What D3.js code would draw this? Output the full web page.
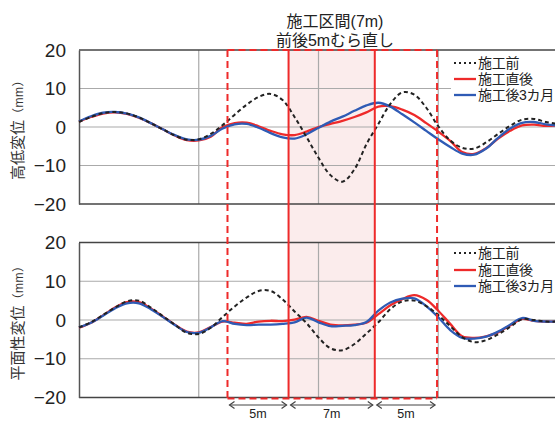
<!DOCTYPE html>
<html><head><meta charset="utf-8">
<script src="https://cdn.jsdelivr.net/npm/d3@7"></script>
<style>body{margin:0;background:#fff}svg{display:block;font-family:"Liberation Sans",Arial,"Noto Sans CJK JP",sans-serif}</style>
</head><body><svg id="c" width="555" height="421"></svg>
<script>
// x positions (m, grid every 10)
const xs = d3.range(0, 41);
// 高低変位 (mm)
const topBefore = [1.3,2.6,3.6,3.9,3.5,2.5,1.0,-0.6,-2.2,-3.3,-3.2,-1.8,0.5,3.2,5.8,7.8,8.6,7.0,2.6,-2.6,-8.0,-12.5,-14.2,-11.0,-4.5,0.8,6.0,9.0,8.4,5.0,0.2,-3.5,-5.4,-5.6,-4.0,-1.8,0.3,1.9,2.1,1.3,0.8];
const topAfter  = [1.4,2.6,3.5,3.8,3.4,2.4,1.0,-0.6,-2.2,-3.4,-3.5,-2.5,0.0,1.0,1.1,0.2,-1.0,-1.9,-2.1,-1.2,0.0,0.8,1.6,2.6,3.8,5.3,5.4,4.5,3.1,1.0,-1.2,-3.6,-6.5,-7.0,-5.5,-3.0,-1.0,0.4,0.6,0.3,0.4];
const top3m     = [1.5,2.8,3.7,3.9,3.5,2.5,1.0,-0.6,-2.1,-3.2,-3.3,-2.3,-0.4,0.7,0.8,-0.2,-1.6,-2.7,-3.0,-1.9,-0.2,1.4,2.7,4.2,5.6,6.3,5.3,3.3,1.2,-1.0,-3.2,-5.2,-6.9,-7.2,-5.6,-2.8,-0.4,1.1,1.3,0.7,0.4];
// 平面性変位 (mm)
const botBefore = [-1.9,-0.6,1.3,3.2,4.8,5.0,3.2,1.0,-1.2,-3.3,-3.6,-2.0,0.8,3.5,5.8,7.5,7.5,5.3,2.2,-0.8,-4.5,-7.3,-7.8,-6.2,-3.5,-0.6,2.8,4.8,5.0,3.6,1.3,-1.6,-4.4,-5.7,-5.2,-3.7,-1.8,0.2,0.0,-0.4,-0.4];
const botAfter  = [-2.0,-0.7,1.2,3.2,4.6,4.6,3.0,0.9,-1.2,-3.0,-3.2,-1.8,-0.4,-0.7,-1.0,-0.4,-0.2,-0.3,0.1,0.8,-0.2,-1.2,-1.4,-1.2,-0.7,1.5,3.8,5.4,6.4,5.2,2.4,-1.0,-4.2,-4.6,-4.2,-3.2,-1.4,0.3,-0.2,-0.4,-0.4];
const bot3m     = [-1.9,-0.7,1.1,3.0,4.3,4.3,2.8,0.8,-1.3,-3.1,-3.3,-1.9,-0.3,-1.0,-1.3,-1.2,-1.2,-1.0,-0.6,0.6,-0.6,-1.6,-1.5,-1.3,-0.5,2.4,4.5,5.5,5.6,3.6,0.7,-2.6,-4.6,-4.8,-4.3,-3.0,-1.2,0.5,-0.2,-0.4,-0.4];
const yTicks = [20,10,0,-10,-20];
const xGrid = [10,20,30];
const seriesNames = ["施工前","施工直後","施工後3カ月"];
// zones: 5m before, 7m works, 5m after
const zoneEdges = [12.4, 17.5, 24.7, 29.9];
const zoneLabels = ["5m","7m","5m"];
const titleLines = ["施工区間(7m)","前後5mむら直し"];

const svg = d3.select("#c");
const x = d3.scaleLinear().domain([0,40]).range([79,558]);
const panels = [
  {y: d3.scaleLinear().domain([-20,20]).range([204,50]), data:[topBefore,topAfter,top3m], title:"高低変位", legY:[63,79,95]},
  {y: d3.scaleLinear().domain([-20,20]).range([397.5,242.5]), data:[botBefore,botAfter,bot3m], title:"平面性変位", legY:[253,270,286]}
];
const colors = ["#222","#ee2a2a","#2f5bb5"];

const yTop = panels[0].y(20), yBot = panels[1].y(-20);
svg.append("rect").attr("x", x(zoneEdges[1])).attr("y", yTop)
  .attr("width", x(zoneEdges[2]) - x(zoneEdges[1])).attr("height", yBot - yTop)
  .attr("fill", "#fbecec");

panels.forEach((p, pi) => {
  const g = svg.append("g");
  g.selectAll(".hg").data([10,0,-10]).join("line")
    .attr("x1", x(0)).attr("x2", 555).attr("y1", d => p.y(d)).attr("y2", d => p.y(d))
    .attr("stroke", "#aaa").attr("stroke-width", 1.2);
  g.selectAll(".vg").data(xGrid).join("line")
    .attr("x1", d => x(d)).attr("x2", d => x(d)).attr("y1", p.y(20)).attr("y2", p.y(-20))
    .attr("stroke", "#aaa").attr("stroke-width", 1.2);
  g.append("line").attr("x1", x(0)).attr("x2", 555).attr("y1", p.y(20)).attr("y2", p.y(20)).attr("stroke", "#444").attr("stroke-width", 1.5);
  g.append("line").attr("x1", x(0)).attr("x2", 555).attr("y1", p.y(-20)).attr("y2", p.y(-20)).attr("stroke", "#444").attr("stroke-width", 1.5);
  const ax = g.append("g").attr("transform", `translate(${x(0)},0)`)
    .call(d3.axisLeft(p.y).tickValues(yTicks).tickSize(0).tickPadding(13).tickFormat(d => d < 0 ? "\u2212" + Math.abs(d) : d));
  ax.select(".domain").attr("stroke", "#555").attr("stroke-width", 1.5);
  ax.selectAll("text").attr("font-size", 19).attr("fill", "#222").attr("font-family", "Liberation Sans, Arial, sans-serif");
  const cy = p.y(0);
  const t = g.append("text").attr("transform", `translate(23,${cy}) rotate(-90)`).attr("text-anchor", "middle").attr("fill", "#333");
  t.append("tspan").attr("font-size", 15).text(p.title);
  t.append("tspan").attr("font-size", 12).attr("letter-spacing", 0.5).text("（mm）");
  const line = d3.line().x((d, i) => x(xs[i])).y(d => p.y(d)).curve(d3.curveCatmullRom.alpha(0.5));
  [1, 2, 0].forEach(si => {
    g.append("path").attr("d", line(p.data[si])).attr("fill", "none")
      .attr("stroke", colors[si]).attr("stroke-width", si === 0 ? 2 : 2.3)
      .attr("stroke-dasharray", si === 0 ? "4,3" : null);
  });
  g.append("rect").attr("x", 451).attr("y", p.legY[0] - 9).attr("width", 104).attr("height", p.legY[2] - p.legY[0] + 18).attr("fill", "#fff");
  seriesNames.forEach((n, i) => {
    const ly = p.legY[i];
    g.append("line").attr("x1", 454).attr("x2", 476).attr("y1", ly).attr("y2", ly)
      .attr("stroke", colors[i]).attr("stroke-width", i === 0 ? 2 : 2.3)
      .attr("stroke-dasharray", i === 0 ? "2,3" : null);
    g.append("text").attr("x", 478).attr("y", ly + 5).attr("font-size", 14).attr("letter-spacing", -0.3).attr("fill", "#222").text(n);
  });
});

const red = "#ee2a2a";
[zoneEdges[1], zoneEdges[2]].forEach(e => {
  svg.append("line").attr("x1", x(e)).attr("x2", x(e)).attr("y1", yTop).attr("y2", yBot)
    .attr("stroke", red).attr("stroke-width", 2);
});
[zoneEdges[0], zoneEdges[3]].forEach(e => {
  svg.append("line").attr("x1", x(e)).attr("x2", x(e)).attr("y1", yTop).attr("y2", yBot + 1)
    .attr("stroke", red).attr("stroke-width", 2).attr("stroke-dasharray", "7,4");
});
[yTop, yBot + 1].forEach(yy => {
  svg.append("line").attr("x1", x(zoneEdges[0])).attr("x2", x(zoneEdges[3])).attr("y1", yy).attr("y2", yy)
    .attr("stroke", red).attr("stroke-width", 2).attr("stroke-dasharray", "7,4");
});

const ay = 405;
zoneLabels.forEach((lab, i) => {
  const x1 = x(zoneEdges[i]) + 2, x2 = x(zoneEdges[i + 1]) - 2;
  svg.append("line").attr("x1", x1).attr("x2", x2).attr("y1", ay).attr("y2", ay).attr("stroke", "#444").attr("stroke-width", 1);
  svg.append("path").attr("d", `M${x1 + 5},${ay - 3.5}L${x1},${ay}L${x1 + 5},${ay + 3.5}`).attr("fill", "none").attr("stroke", "#444").attr("stroke-width", 1.2);
  svg.append("path").attr("d", `M${x2 - 5},${ay - 3.5}L${x2},${ay}L${x2 - 5},${ay + 3.5}`).attr("fill", "none").attr("stroke", "#444").attr("stroke-width", 1.2);
  svg.append("text").attr("x", (x1 + x2) / 2).attr("y", 418).attr("text-anchor", "middle").attr("font-size", 12.5).attr("fill", "#222").text(lab);
});

titleLines.forEach((s, i) => {
  svg.append("text").attr("x", 335).attr("y", 27 + i * 18.5).attr("text-anchor", "middle").attr("font-size", 16).attr("fill", "#222").text(s);
});
</script></body></html>
